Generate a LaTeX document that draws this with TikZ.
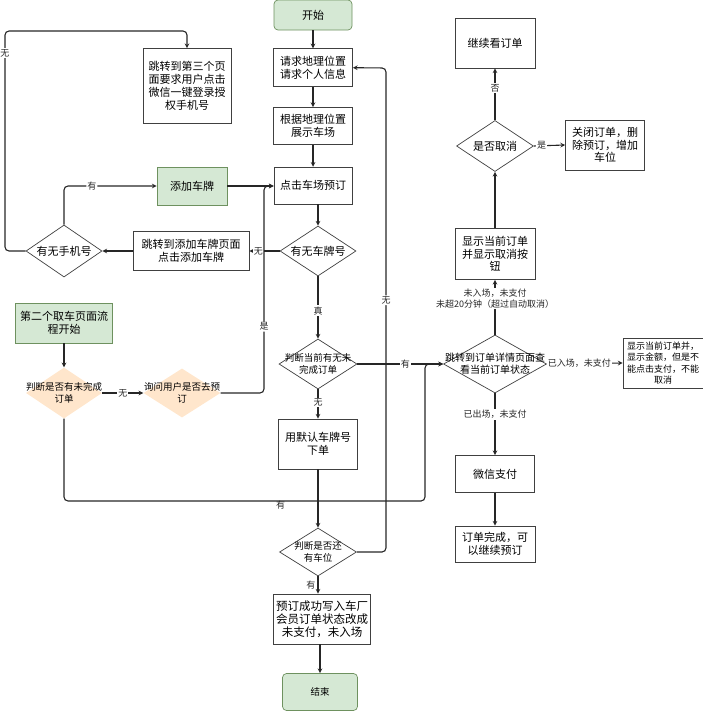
\documentclass[tikz,border=0pt]{standalone}
\usepackage{fontspec}
\setmainfont{Noto Sans CJK SC}
\usepackage{tikz}
\usetikzlibrary{positioning,shapes.geometric}
\definecolor{greenFill}{RGB}{213,232,212}
\definecolor{greenLine}{RGB}{110,145,95}
\definecolor{askFill}{RGB}{255,230,204}

\begin{document}
\begin{tikzpicture}[
    x=1pt, y=-1pt,
    % Styles
    box/.style={
        draw=black!75,
        line width=0.7pt,
        fill=white,
        align=center,
        font=\fontsize{11}{13.5}\selectfont,
        inner sep=2pt
    },
    startstop/.style={
        box,
        draw=greenLine,
        fill=greenFill,
        rounded corners=4pt
    },
    decision/.style={
        diamond,
        draw=black!75,
        line width=0.7pt,
        fill=white,
        inner sep=0pt
    },
    choice/.style={
        diamond,
        fill=askFill,
        inner sep=0pt
    },
    arrow/.style={->, >=stealth, line width=1.1pt, color=black!85},
    tag/.style={fill=white, inner sep=1pt, font=\fontsize{9}{11}\selectfont, align=center}
]
    \useasboundingbox (0,0) rectangle (703,712);

    % ---------------------------------------------------------
    % 1. MAIN COLUMN
    % ---------------------------------------------------------
    \node[startstop, minimum width=78pt, minimum height=30pt] (start) at (313,15) {开始};
    \node[box, minimum width=79pt, minimum height=38pt, below=18pt of start] (locate) {请求地理位置\\请求个人信息};
    \node[box, minimum width=79pt, minimum height=37pt, below=20pt of locate] (parks) {根据地理位置\\展示车场};
    \node[box, minimum width=78pt, minimum height=37pt, below=22pt of parks] (reserve) {点击车场预订};
    \node[decision, minimum width=76pt, minimum height=50pt,
        label={[font=\fontsize{11}{13}\selectfont]center:有无车牌号}] (plate) at (318,251) {};
    \node[decision, minimum width=78pt, minimum height=50pt,
        label={[font=\fontsize{9.5}{11.5}\selectfont, align=center]center:判断当前有无未\\完成订单}] (open) at (318,364) {};
    \node[box, minimum width=79pt, minimum height=50pt] (default) at (318,444) {用默认车牌号\\下单};
    \node[decision, minimum width=77pt, minimum height=48pt,
        label={[font=\fontsize{9.5}{11.5}\selectfont, align=center]center:判断是否还\\有车位}] (slot) at (318,552) {};
    \node[box, minimum width=97pt, minimum height=50pt, font=\fontsize{11.5}{13}\selectfont] (booked) at (322,619) {预订成功写入车厂\\会员订单状态改成\\未支付，未入场};
    \node[startstop, minimum width=75pt, minimum height=37pt, font=\fontsize{9.5}{11}\selectfont] (finish) at (320,692) {结束};

    % ---------------------------------------------------------
    % 2. LEFT: PLATE AND PHONE
    % ---------------------------------------------------------
    \node[box, minimum width=88pt, minimum height=75pt, font=\fontsize{11}{13}\selectfont] (third) at (187,86) {跳转到第三个页\\面要求用户点击\\微信一键登录授\\权手机号};
    \node[startstop, rounded corners=0pt, minimum width=70pt, minimum height=38pt] (addplate) at (192,186) {添加车牌};
    \node[box, minimum width=116pt, minimum height=39pt, font=\fontsize{11}{13}\selectfont] (platepage) at (191,251) {跳转到添加车牌页面\\点击添加车牌};
    \node[decision, minimum width=76pt, minimum height=52pt,
        label={[font=\fontsize{11}{13}\selectfont]center:有无手机号}] (phone) at (64,251) {};

    % ---------------------------------------------------------
    % 3. LEFT: SECOND PAGE
    % ---------------------------------------------------------
    \node[startstop, rounded corners=0pt, minimum width=97pt, minimum height=40pt] (second) at (64,323) {第二个取车页面流\\程开始};
    \node[choice, minimum width=76pt, minimum height=51pt,
        label={[font=\fontsize{9.5}{11.5}\selectfont, align=center]center:判断是否有未完成\\订单}] (pending) at (64,393) {};
    \node[choice, minimum width=77pt, minimum height=49pt,
        label={[font=\fontsize{9.5}{11.5}\selectfont, align=center]center:询问用户是否去预\\订}] (ask) at (182,393) {};

    % ---------------------------------------------------------
    % 4. RIGHT: ORDER DETAIL
    % ---------------------------------------------------------
    \node[box, minimum width=80pt, minimum height=50pt] (keep) at (495,43) {继续看订单};
    \node[decision, minimum width=77pt, minimum height=51pt,
        label={[font=\fontsize{11}{13}\selectfont]center:是否取消}] (cancel) at (495,146) {};
    \node[box, minimum width=79pt, minimum height=50pt, font=\fontsize{11}{12.5}\selectfont] (close) at (605,145) {关闭订单，删\\除预订，增加\\车位};
    \node[box, minimum width=80pt, minimum height=51pt, font=\fontsize{11}{12.5}\selectfont] (showcancel) at (495,254) {显示当前订单\\并显示取消按\\钮};
    \node[decision, minimum width=103pt, minimum height=58pt,
        label={[font=\fontsize{10}{12}\selectfont, align=center]center:跳转到订单详情页面查\\看当前订单状态}] (detail) at (495,364) {};
    \node[box, minimum width=80pt, minimum height=50pt, font=\fontsize{9}{11.5}\selectfont, inner sep=1pt] (showpay) at (663,363) {显示当前订单并，\\显示金额，但是不\\能点击支付，不能\\取消};
    \node[box, minimum width=79pt, minimum height=37pt] (pay) at (495,474) {微信支付};
    \node[box, minimum width=80pt, minimum height=36pt, font=\fontsize{11}{12.5}\selectfont] (done) at (495,544) {订单完成，可\\以继续预订};

    % bend points
    \coordinate (phoneLoop) at (5,31);
    \coordinate (slotLoop) at (386,68);
    \coordinate (askMerge) at (264,186);
    \coordinate (orderLoop) at (425,501);

    % ---------------------------------------------------------
    % CONNECTIONS
    % ---------------------------------------------------------
    \draw[arrow] (start) -- (locate);
    \draw[arrow] (locate) -- (parks);
    \draw[arrow] (parks) -- (reserve);
    \draw[arrow] (reserve.south -| plate.north) -- (plate.north);
    \draw[arrow] (plate.south) -- node[tag, pos=0.55] {真} (open.north);
    \draw[arrow] (open.south) -- node[tag, pos=0.45] {无} (default.north);
    \draw[arrow] (default.south) -- (slot.north);
    \draw[arrow] (slot.south) -- node[tag, left=1pt, fill=none] {有} (slot.south |- booked.north);
    \draw[arrow] (booked.south -| finish.north) -- (finish.north);
    \draw[arrow, rounded corners=4pt] (slot.east) -| node[tag, pos=0.76] {无} (slotLoop) -- (locate.east);

    % Plate and phone
    \draw[arrow] (plate.west) -- node[tag, pos=0.7] {无} (platepage.east);
    \draw[arrow] (platepage.west) -- (phone.east);
    \draw[arrow, rounded corners=4pt] (phone.north) |- node[tag, pos=0.65] {有} (addplate.west);
    \draw[arrow, rounded corners=4pt] (phone.west) -| node[tag, pos=0.95] {无} (phoneLoop) -| (third.north);
    \draw[arrow] (addplate.east) -- (reserve.west |- addplate.east);

    % Second page
    \draw[arrow] (second.south) -- (pending.north);
    \draw[arrow] (pending.east) -- node[tag] {无} (ask.west);
    \draw[arrow, rounded corners=4pt] (ask.east) -| node[tag, pos=0.66] {是} (askMerge) -- (reserve.west |- askMerge);
    \draw[arrow, rounded corners=4pt] (pending.south) |- node[tag, pos=0.8, yshift=-4pt, fill=none] {有} (orderLoop) -- (orderLoop |- detail.west) -- (detail.west);
    \draw[arrow] (open.east) -- node[tag, pos=0.56] {有} (detail.west);

    % Order detail
    \draw[arrow] (detail.north) -- node[tag, pos=0.66] {未入场，未支付\\未超20分钟（超过自动取消）} (showcancel.south);
    \draw[arrow] (showcancel.north) -- (cancel.south);
    \draw[arrow] (cancel.north) -- node[tag, pos=0.62] {否} (keep.south);
    \draw[arrow] (cancel.east) -- node[tag, pos=0.25] {是} (close.west);
    \draw[arrow] (detail.east) -- node[tag, pos=0.43] {已入场，未支付} (showpay.west);
    \draw[arrow] (detail.south) -- node[tag, pos=0.34] {已出场，未支付} (pay.north);
    \draw[arrow] (pay.south) -- (done.north);

\end{tikzpicture}
\end{document}
